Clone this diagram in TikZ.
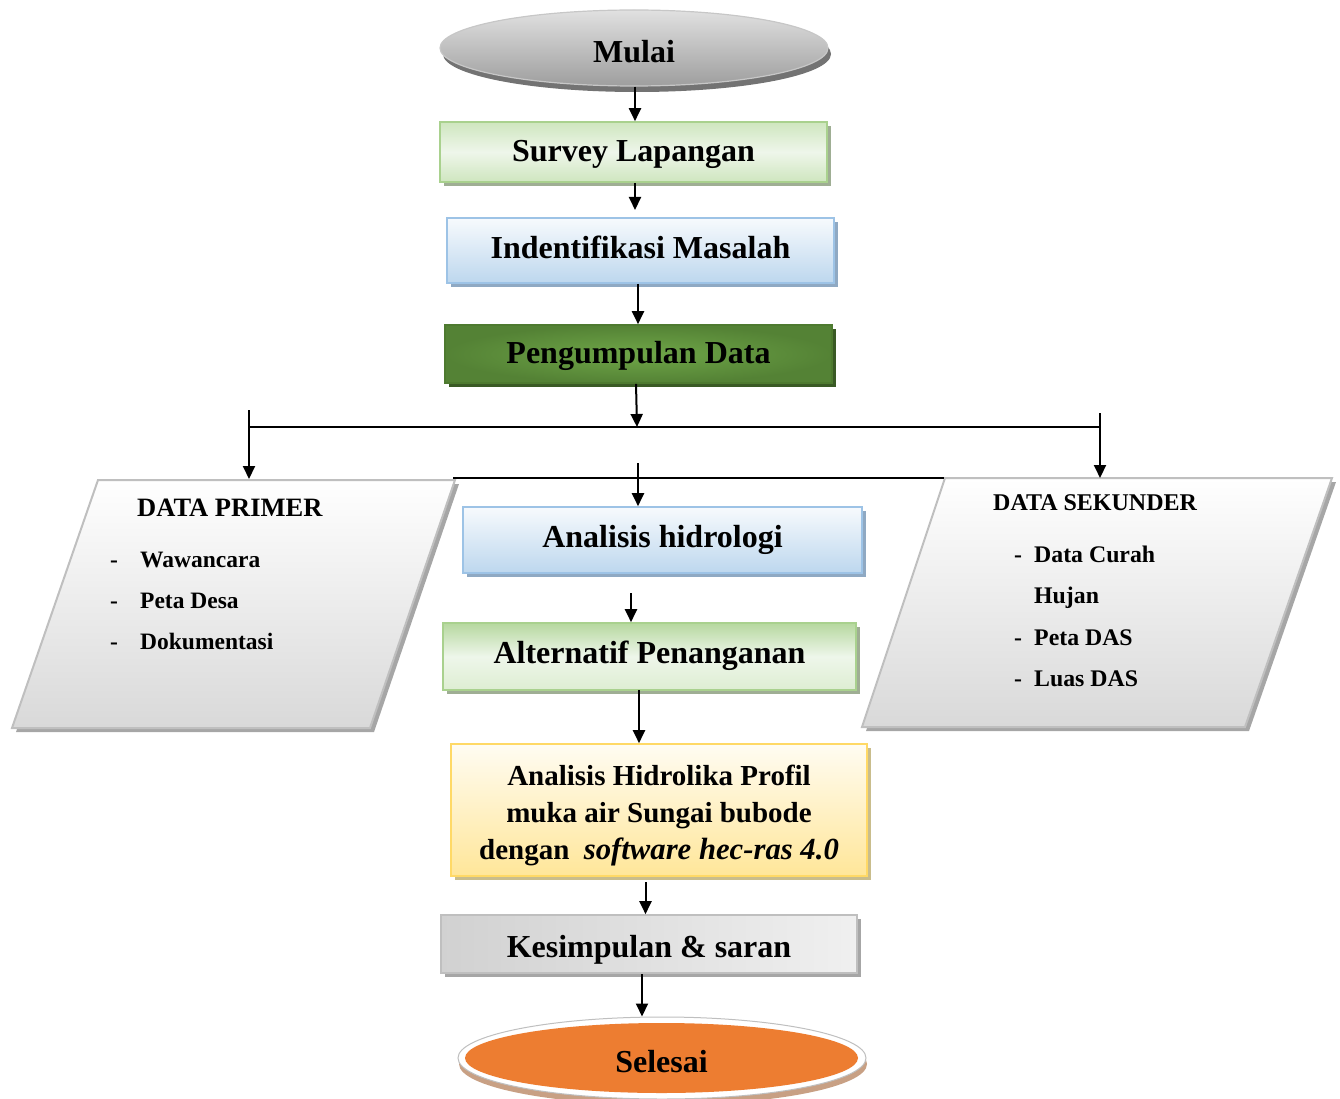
\documentclass[tikz,border=0pt]{standalone}
\usepackage{fontspec}
\setmainfont{Liberation Serif}
\usetikzlibrary{shapes.geometric,shadows,arrows.meta}
\definecolor{grnB}{HTML}{A9D18E}
\definecolor{grnT}{HTML}{CFE6BF}
\definecolor{grnM}{HTML}{EEF6EA}
\definecolor{grnS}{HTML}{9FAE94}
\definecolor{bluB}{HTML}{9DC3E6}
\definecolor{bluT}{HTML}{F7FAFD}
\definecolor{bluBt}{HTML}{BDD7EE}
\definecolor{bluS}{HTML}{8FA9C3}
\definecolor{dgrO}{HTML}{548235}
\definecolor{dgrI}{HTML}{6FA648}
\definecolor{dgrB}{HTML}{4E7A30}
\definecolor{dgrS}{HTML}{3A5A25}
\definecolor{ylwB}{HTML}{FFD966}
\definecolor{ylwT}{HTML}{FFFCF2}
\definecolor{ylwBt}{HTML}{FFE699}
\definecolor{ylwS}{HTML}{C9BD8C}
\definecolor{gryB}{HTML}{BFBFBF}
\definecolor{gryS}{HTML}{A6A6A6}
\definecolor{orng}{HTML}{ED7D31}
\definecolor{brnS}{HTML}{C8A084}
\newcommand\fbig{\fontsize{32}{38}\selectfont\bfseries}
\begin{document}
\begin{tikzpicture}[x=1pt,y=-1pt,
  arr/.style={line width=2pt,-{Triangle[length=13pt,width=12pt]}},
  box/.style={rectangle,line width=1.6pt,inner sep=0pt,font=\fbig,text depth=0pt},
  greenbox/.style={box,draw=grnB,top color=grnT,bottom color=grnT,middle color=grnM,
     drop shadow={shadow xshift=4pt,shadow yshift=-4pt,fill=grnS,opacity=1}},
  bluebox/.style={box,draw=bluB,top color=bluT,bottom color=bluBt,
     drop shadow={shadow xshift=4pt,shadow yshift=-4pt,fill=bluS,opacity=1}},
  darkbox/.style={box,draw=dgrB,inner color=dgrI,outer color=dgrO,
     drop shadow={shadow xshift=4pt,shadow yshift=-4pt,fill=dgrS,opacity=1}},
  yellowbox/.style={rectangle,line width=1.6pt,inner sep=0pt,draw=ylwB,top color=ylwT,bottom color=ylwBt,
     drop shadow={shadow xshift=4pt,shadow yshift=-4pt,fill=ylwS,opacity=1}},
  graybox/.style={box,draw=gryB,left color=black!18,right color=black!6,
     drop shadow={shadow xshift=4pt,shadow yshift=-4pt,fill=gryS,opacity=1}},
  para/.style={draw=gryB,line width=2pt,top color=white,bottom color=black!15,
     drop shadow={shadow xshift=4pt,shadow yshift=-4pt,fill=gryS,opacity=1}},
  itemA/.style={anchor=base west,inner sep=0pt,font=\fontsize{23.5}{28}\selectfont\bfseries},
  itemB/.style={anchor=base west,inner sep=0pt,font=\fontsize{23.8}{28}\selectfont\bfseries}
]
\useasboundingbox (0,0) rectangle (1340,1099);

% start ellipse
\node[ellipse,minimum width=388,minimum height=76,draw=black!22,line width=1.2pt,
  top color=black!12,bottom color=black!38,font=\fbig,inner sep=0pt,text height=30pt,text depth=0pt,
  drop shadow={shadow xshift=3pt,shadow yshift=-6pt,fill=black!55,opacity=1}]
  (mulai) at (634,48) {Mulai};

\node[greenbox,minimum width=387,minimum height=60,text height=20pt] (survey) at (633.5,152) {Survey Lapangan};
\node[bluebox,minimum width=387,minimum height=65,text height=16pt] (ident) at (640.5,250.5) {Indentifikasi Masalah};
\node[darkbox,minimum width=387,minimum height=58,text height=18pt] (kumpul) at (638.5,354) {Pengumpulan Data};

% side parallelograms
\path[para] (98,480) -- (455,480) -- (370,728) -- (12,728) -- cycle;
\path[para] (945,478) -- (1332,478) -- (1245,727) -- (862,727) -- cycle;

\node[anchor=base west,inner sep=0pt,font=\fontsize{26.5}{30}\selectfont\bfseries] (dprimer) at (137,516) {DATA PRIMER};
\node[itemA] (pd1) at (110,567) {-};
\node[itemA] (pt1) at (140,567) {Wawancara};
\node[itemA] (pd2) at (110,608) {-};
\node[itemA] (pt2) at (140,608) {Peta Desa};
\node[itemA] (pd3) at (110,649) {-};
\node[itemA] (pt3) at (140,649) {Dokumentasi};

\node[anchor=base west,inner sep=0pt,font=\fontsize{24}{28}\selectfont\bfseries] (dsek) at (993,510) {DATA SEKUNDER};
\node[itemB] (sd1) at (1014,562) {-};
\node[itemB] (st1) at (1034,562) {Data Curah};
\node[itemB] (st1b) at (1034,603) {Hujan};
\node[itemB] (sd2) at (1014,645) {-};
\node[itemB] (st2) at (1034,645) {Peta DAS};
\node[itemB] (sd3) at (1014,686) {-};
\node[itemB] (st3) at (1034,686) {Luas DAS};

\node[bluebox,minimum width=399,minimum height=66,text height=14pt] (hidro) at (662.5,540) {Analisis hidrologi};
\node[greenbox,minimum width=413,minimum height=67,text height=13pt,top color=grnB!85,bottom color=grnT!70,middle color=grnM] (alt) at (649.5,656.5) {Alternatif Penanganan};
\node[yellowbox,minimum width=416,minimum height=132,
  font=\fontsize{29}{37}\selectfont\bfseries] (hidrolika) at (659,810)
  {\raisebox{-5pt}[\height][\depth]{\begin{tabular}{@{}c@{}}Analisis Hidrolika Profil\\muka air Sungai bubode\\dengan\ \ {\fontsize{30.7}{37}\selectfont\itshape software hec-ras 4.0}\end{tabular}}};
\node[graybox,minimum width=416,minimum height=58,text height=26pt] (simpul) at (649,944) {Kesimpulan \& saran};

% end ellipse
\node[ellipse,minimum width=408,minimum height=82,fill=white,draw=black!25,line width=1pt,
  drop shadow={shadow xshift=1pt,shadow yshift=-6pt,fill=brnS,opacity=1}]
  (selring) at (662,1058) {};
\node[ellipse,minimum width=393,minimum height=70,fill=orng,font=\fbig,inner sep=0pt,text height=28pt,text depth=0pt]
  (selesai) at (661.5,1058) {Selesai};

% coordinates
\coordinate (brc) at (637,427);
\coordinate (brl) at (249,427);
\coordinate (brr) at (1100,427);
\coordinate (lt) at (249,410);
\coordinate (lb) at (249,479);
\coordinate (rt) at (1100,413);
\coordinate (rb) at (1100,478);
\coordinate (h2l) at (453,478);
\coordinate (h2r) at (944,478);
\coordinate (h2s) at (638,463);
\coordinate (a2s) at (631,593);
\coordinate (alts) at (639,690);
\coordinate (hls) at (645.5,882);
\coordinate (kss) at (642,974);

% connectors
\draw[arr] (mulai.south -| 635,0) -- (635,0 |- survey.north);
\draw[arr] (survey.south -| 635,0) -- (635,210);
\draw[arr] (ident.south -| 638,0) -- (638,0 |- kumpul.north);
\draw[arr] (kumpul.south -| 636,0) -- (brc);
\draw[line width=2pt] (brl) -- (brr);
\draw[arr] (lt) -- (lb);
\draw[arr] (rt) -- (rb);
\draw[line width=1.5pt] (h2l) -- (h2r);
\draw[arr] (h2s) -- (h2s |- hidro.north);
\draw[arr] (a2s) -- (a2s |- alt.north);
\draw[arr] (alts) -- (alts |- hidrolika.north);
\draw[arr] (hls) -- (hls |- simpul.north);
\draw[arr] (kss) -- (kss |- selring.north);
\end{tikzpicture}
\end{document}
